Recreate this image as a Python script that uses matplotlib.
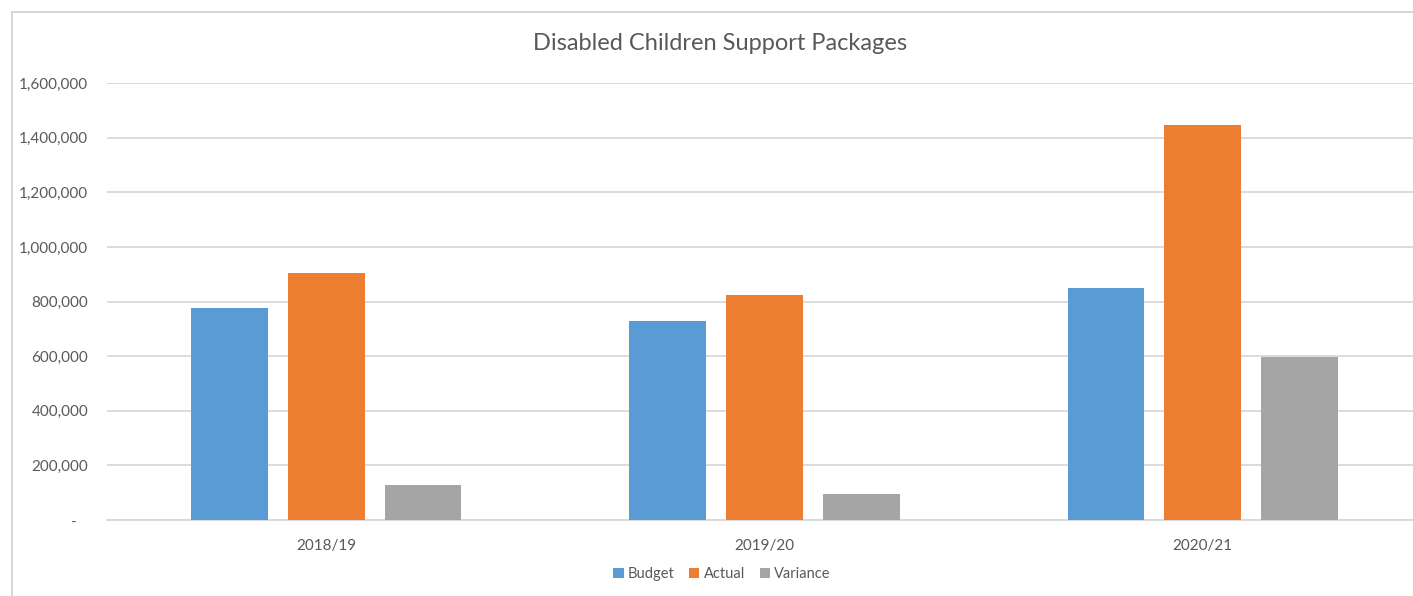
import matplotlib.pyplot as plt
import numpy as np
from matplotlib.ticker import FuncFormatter
from matplotlib.patches import Rectangle

plt.rcParams['font.family'] = ['Lato', 'DejaVu Sans']

# data
years = ["2018/19", "2019/20", "2020/21"]
budget = [776000, 728000, 849000]
actual = [906000, 823000, 1448000]
variance = [127000, 94000, 597000]

series_names = ["Budget", "Actual", "Variance"]
series_colors = ["#5B9BD5", "#ED7D31", "#A5A5A5"]

text_col = "#595959"
grid_col = "#D9D9D9"

fig = plt.figure(figsize=(14.13, 5.96), dpi=100)

# frame of the excel chart area (right/bottom cut off in screenshot)
fig.patches.append(Rectangle((12 / 1413, -0.1), 1.2, 1 - 12 / 596 + 0.1,
                             transform=fig.transFigure, fill=False,
                             edgecolor="#D0D0D0", linewidth=1.2))

# plot area runs a bit past the right edge like the screenshot
ax = fig.add_axes([107 / 1413, 1 - 520 / 596, 1315 / 1413, 436.7 / 596])

x = np.arange(len(years))
w = 0.175
step = 0.221
for k, (vals, name, col) in enumerate(zip([budget, actual, variance], series_names, series_colors)):
    ax.bar(x + (k - 1) * step, vals, width=w, color=col, label=name, zorder=3)

ax.set_xlim(-0.5, len(years) - 0.5)
ax.set_ylim(0, 1600000)
ax.set_yticks(np.arange(0, 1600001, 200000))


def fmt(v, pos):
    if v == 0:
        return "-   "
    return "{:,.0f}".format(v)


ax.yaxis.set_major_formatter(FuncFormatter(fmt))
ax.set_xticks(x)
ax.set_xticklabels(years)

ax.grid(axis="y", color=grid_col, linewidth=1.3, zorder=0)
for s in ["left", "right", "top"]:
    ax.spines[s].set_visible(False)
ax.spines["bottom"].set_color(grid_col)
ax.spines["bottom"].set_linewidth(1.3)
ax.tick_params(axis="both", length=0, labelsize=11, colors=text_col)
ax.tick_params(axis="y", pad=13.5)
ax.tick_params(axis="x", pad=14)

fig.text(720 / 1413, 1 - 44 / 596, "Disabled Children Support Packages",
         ha="center", va="center", fontsize=17, color=text_col)

leg = fig.legend(loc="center", bbox_to_anchor=(722 / 1413, 1 - 574 / 596), ncol=3,
                 frameon=False, fontsize=10.5, handlelength=0.7, handleheight=0.7,
                 handletextpad=0.3, columnspacing=1.0)
for t in leg.get_texts():
    t.set_color(text_col)

fig.savefig("out.png", dpi=100)
